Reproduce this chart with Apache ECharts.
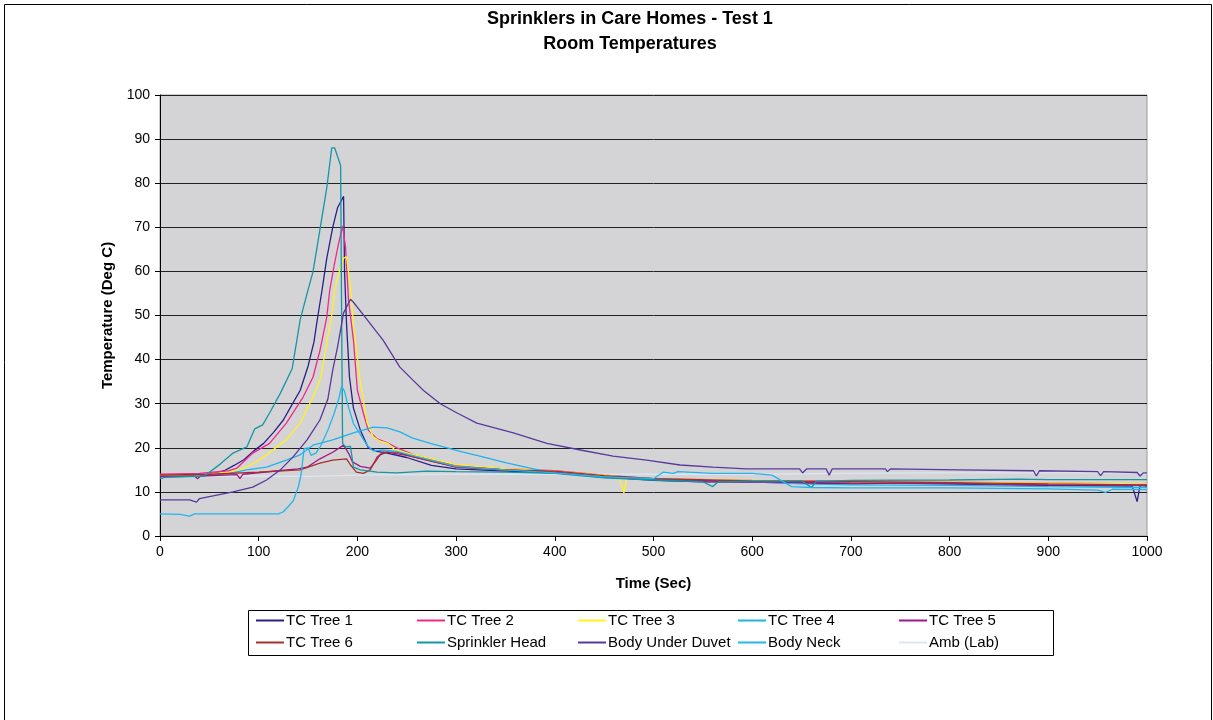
<!DOCTYPE html>
<html>
<head>
<meta charset="utf-8">
<script src="https://cdn.jsdelivr.net/npm/echarts@6/dist/echarts.min.js"></script>
<style>html,body{margin:0;padding:0;background:#fff}#c{width:1213px;height:720px}</style>
</head>
<body>
<div id="c"></div>
<script>
const seriesNames = ["TC Tree 1","TC Tree 2","TC Tree 3","TC Tree 4","TC Tree 5","TC Tree 6","Sprinkler Head","Body Under Duvet","Body Neck","Amb (Lab)"];
const xTicks = [0,100,200,300,400,500,600,700,800,900,1000];
const yTicks = [0,10,20,30,40,50,60,70,80,90,100];

const tcTree1 = [[0,13.6],[20,13.7],[40,13.8],[55,14.2],[65,14.8],[75,16],[85,17.3],[95,19.3],[105,21],[115,23.5],[125,26.3],[133,29.5],[142,33],[150,38.5],[156,44],[160,50],[164,55.5],[169,63],[175,70],[180,74.5],[186,77],[187,60],[189,48],[192,36],[196,29],[203,24],[211,20],[220,19.2],[230,18.8],[250,17.8],[275,16],[300,15.2],[350,14.7],[400,14.3],[450,13.4],[500,12.6],[550,12.3],[600,12.2],[650,12],[700,11.8],[750,12],[800,11.8],[850,11.6],[900,11.5],[950,11.4],[985,11.3],[990,7.8],[993,11.5],[1000,11.3]];
const tcTree2 = [[0,14],[40,14.2],[70,14.8],[78,15.4],[94,18.8],[111,21],[128,25.6],[145,31.5],[155,36],[162,42],[169,49.7],[172,55.8],[177,62],[181,66.4],[185,70.3],[188,65.5],[191,53.5],[196,44.4],[200,33],[206,27.9],[211,24],[220,22],[230,21.2],[240,20],[260,18.2],[300,16],[350,15.2],[400,14.8],[450,13.8],[500,13],[600,12.6],[700,12.4],[800,12.2],[900,12],[1000,11.8]];
const tcTree3 = [[0,13.6],[40,13.8],[70,14.5],[81,15],[95,16.5],[108,18.4],[128,21.8],[142,25.6],[155,31.5],[163,36],[169,44],[174,50],[177,55.8],[182,60.3],[186,63],[189,63.3],[193,56.5],[196,48],[203,34.7],[210,25.6],[216,22.5],[223,21.5],[231,21],[238,19.5],[260,18.3],[300,16.2],[350,15.3],[400,14.7],[450,13.8],[465,13.5],[470,9.8],[473,13.3],[500,13],[600,12.6],[700,12.2],[800,12.2],[900,12],[1000,11.8]];
const tcTree4 = [[0,13.4],[40,13.6],[70,14.2],[88,15],[108,15.6],[128,17.2],[142,18.4],[155,20.6],[175,21.8],[196,23.4],[216,24.7],[230,24.5],[243,23.6],[256,22.2],[274,21],[291,20],[307,19],[324,18.1],[351,16.6],[375,15.4],[392,14.6],[420,14.2],[450,13.5],[500,13],[600,12.3],[650,11.8],[700,11.6],[800,11.5],[900,11.2],[1000,11]];
const tcTree5 = [[0,13.5],[35,13.6],[38,13],[41,13.6],[78,13.9],[81,13],[84,14],[120,14.8],[140,15.2],[149,15.6],[162,17.5],[175,19],[186,20.6],[191,18.8],[195,16.8],[203,15.8],[213,15.4],[218,16.8],[223,18.4],[230,19],[250,18.3],[300,15.7],[350,15],[400,14.5],[450,13.3],[500,12.8],[600,12.3],[700,12],[800,11.9],[900,11.6],[1000,11.5]];
const tcTree6 = [[0,13.8],[50,14],[100,14.5],[142,15],[162,16.5],[175,17.2],[189,17.5],[193,16.1],[199,14.5],[206,14.2],[213,15],[220,17.9],[226,19],[240,19],[260,17.8],[300,15.6],[350,15],[400,14.7],[450,13.7],[500,13],[600,12.5],[700,12.3],[800,12.1],[900,11.8],[1000,11.6]];
const sprinklerHead = [[0,13],[5,13.3],[45,13.6],[61,16.3],[74,18.8],[88,20.2],[96,24.3],[104,25.2],[111,27.9],[122,32.4],[134,38],[142,49],[150,55.8],[155,59.9],[162,69.4],[169,79],[174,88],[177,88],[183,84],[184,50],[185,21],[188,20.2],[193,20.3],[196,15.6],[203,15],[220,14.5],[240,14.3],[270,14.7],[300,14.6],[350,14.5],[400,14.2],[450,13.2],[500,12.7],[550,12.3],[560,11.2],[565,12.2],[600,12.5],[650,12.5],[660,11],[665,12.4],[700,12.6],[800,12.7],[870,12.9],[900,12.8],[1000,12.8]];
const bodyUnderDuvet = [[0,8.2],[30,8.2],[37,7.7],[40,8.5],[74,10],[94,11.1],[108,12.7],[122,15],[135,18],[149,21.8],[162,26.3],[170,31],[175,37.6],[180,43],[186,50.6],[193,53.7],[196,53],[210,49],[226,44.4],[243,38.3],[256,35.4],[267,33],[284,30],[301,27.9],[321,25.6],[358,23.4],[392,21],[426,19.5],[459,18.1],[493,17.2],[527,16.1],[560,15.6],[594,15.2],[628,15.2],[648,15.2],[651,14.3],[655,15.2],[675,15.2],[678,13.8],[681,15.2],[735,15.2],[737,14.6],[740,15.2],[810,15],[885,14.8],[888,13.6],[891,14.8],[950,14.6],[953,13.7],[956,14.6],[990,14.4],[993,13.6],[996,14.3],[1000,14.3]];
const bodyNeck = [[0,5],[20,4.9],[30,4.5],[35,5],[80,5],[120,5],[125,5.5],[130,6.7],[135,8],[140,11],[143,14],[146,19.8],[150,20],[153,18.3],[158,18.8],[163,20.5],[170,24],[176,27.5],[181,31],[184,34],[187,32.8],[190,30],[196,25.5],[203,23],[210,20.5],[216,19.3],[225,19.5],[240,19.2],[260,18],[300,15.8],[350,15],[400,14.3],[450,13.4],[500,13],[510,14.5],[520,14.2],[525,14.6],[560,14.2],[600,14.2],[620,13.8],[640,11.2],[660,11],[700,10.9],[800,10.9],[900,10.7],[950,10.4],[958,9.9],[965,10.6],[1000,10.5]];
const ambLab = [[0,13.5],[100,13.6],[150,13.5],[200,13.8],[300,14],[400,14],[500,14],[600,14],[700,14.2],[800,14.3],[900,14.3],[1000,14.3]];

const seriesData = [tcTree1,tcTree2,tcTree3,tcTree4,tcTree5,tcTree6,sprinklerHead,bodyUnderDuvet,bodyNeck,ambLab];
const colors = ['#2A1E8A','#F0288C','#FFF21E','#1CB4EA','#A0178C','#A5302A','#1496A5','#58399C','#22B6EE','#DCE6F2'];

const chart = echarts.init(document.getElementById('c'), null, {renderer:'canvas'});
const font = '"Liberation Sans", Arial, sans-serif';
const legendCols = [256,417,578,738,899];
const legendRows = [613,635];
const legends = seriesNames.map((n,i)=>({
  left: legendCols[i%5], top: legendRows[Math.floor(i/5)],
  data:[n], orient:'horizontal', itemWidth:28, itemHeight:2, icon:'rect',
  selectedMode:false, padding:0,
  textStyle:{fontFamily:font,fontSize:15,color:'#000',padding:[0,0,0,-3]}
}));

chart.setOption({
  animation:false,
  backgroundColor:'#fff',
  color:colors,
  title:{
    text:'Sprinklers in Care Homes - Test 1\nRoom Temperatures',
    left:630, top:7, padding:0, textAlign:'center',
    textStyle:{fontFamily:font,fontSize:18,fontWeight:'bold',color:'#000',lineHeight:25}
  },
  graphic:[
    {type:'rect',shape:{x:4.5,y:4.5,width:1207,height:740},style:{fill:'none',stroke:'#000',lineWidth:1},silent:true},
    {type:'rect',shape:{x:248.5,y:610.5,width:805,height:45},style:{fill:'none',stroke:'#000',lineWidth:1},silent:true}
  ],
  legend:legends,
  grid:{left:160,top:95,right:66,bottom:184,show:true,backgroundColor:'#D4D4D6',borderColor:'#9a9a9a',borderWidth:1},
  xAxis:{
    type:'value',min:xTicks[0],max:xTicks[xTicks.length-1],interval:100,
    name:'Time (Sec)',nameLocation:'middle',nameGap:40,
    nameTextStyle:{fontFamily:font,fontSize:15,fontWeight:'bold',color:'#000'},
    axisLine:{show:true,lineStyle:{color:'#000',width:1}},
    axisTick:{show:true,length:5,inside:false,lineStyle:{color:'#000'}},
    axisLabel:{fontFamily:font,fontSize:14,color:'#000',margin:9,formatter:v=>String(v)},
    splitLine:{show:false}
  },
  yAxis:{
    type:'value',min:yTicks[0],max:yTicks[yTicks.length-1],interval:10,
    name:'Temperature (Deg C)',nameLocation:'middle',nameGap:44,
    nameTextStyle:{fontFamily:font,fontSize:15,fontWeight:'bold',color:'#000'},
    axisLine:{show:true,lineStyle:{color:'#000',width:1}},
    axisTick:{show:true,length:5,inside:false,lineStyle:{color:'#000'}},
    axisLabel:{fontFamily:font,fontSize:14,color:'#000',margin:10,formatter:v=>String(v)},
    splitLine:{show:true,lineStyle:{color:'#222',width:1}}
  },
  series:seriesNames.map((n,i)=>({
    name:n,type:'line',data:seriesData[i],showSymbol:false,symbol:'none',
    lineStyle:{width:1.3,color:colors[i]},itemStyle:{color:colors[i]},
    z: i===9 ? 1 : 2 + i
  }))
});
</script>
</body>
</html>
